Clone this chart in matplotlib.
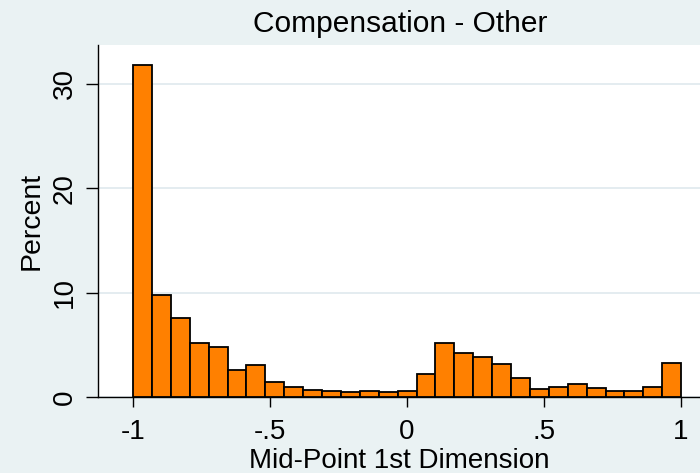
import numpy as np
import matplotlib.pyplot as plt

plt.rcParams["font.family"] = ["Liberation Sans", "DejaVu Sans"]

# histogram of mid-point, 29 equal bins from -1 to 1
bin_lo = -1.0
bin_hi = 1.0
percent = [31.8, 9.8, 7.6, 5.2, 4.8, 2.6, 3.1, 1.4, 1.0, 0.7, 0.6, 0.5, 0.6, 0.5, 0.6,
           2.2, 5.2, 4.2, 3.8, 3.2, 1.8, 0.8, 1.0, 1.2, 0.9, 0.6, 0.6, 1.0, 3.3]
xticks = [-1, -0.5, 0, 0.5, 1]
xtick_labels = ["-1", "-.5", "0", ".5", "1"]
yticks = [0, 10, 20, 30]

edges = np.linspace(bin_lo, bin_hi, len(percent) + 1)

fig = plt.figure(figsize=(7, 4.73), dpi=100)
fig.patch.set_facecolor("#eaf2f3")
ax = fig.add_axes([0.14, 0.1607, 0.86, 0.744])
ax.set_facecolor("white")

ax.bar(edges[:-1], percent, width=np.diff(edges), align="edge",
       color="#ff8000", edgecolor="black", linewidth=1.3, zorder=3)

ax.set_xlim(-1.128, 1.069)
ax.set_ylim(0, 33.7)
ax.set_xticks(xticks)
ax.set_xticklabels(xtick_labels)
ax.set_yticks(yticks)
ax.set_yticklabels([str(t) for t in yticks], rotation=90, va="center")
ax.grid(axis="y", color="#dfe9ed", linewidth=1.2, zorder=0)

for s in ["top", "right"]:
    ax.spines[s].set_visible(False)
ax.spines["left"].set_linewidth(1.0)
ax.spines["bottom"].set_linewidth(1.0)
ax.tick_params(axis="x", length=7.2, width=1.0, labelsize=20, pad=9)
ax.tick_params(axis="y", length=8.5, width=1.0, labelsize=20, pad=6)

ax.set_xlabel("Mid-Point 1st Dimension", fontsize=20)
ax.xaxis.set_label_coords(0.5, -0.2026)
ax.xaxis.label.set_verticalalignment("baseline")
ax.set_ylabel("Percent", fontsize=20.5)
ax.yaxis.set_label_coords(-0.11, 0.5)
ax.yaxis.label.set_verticalalignment("center")

fig.text(0.5714, 0.933, "Compensation - Other", ha="center", va="baseline", fontsize=21.5)

fig.savefig("out.png", dpi=100, facecolor=fig.get_facecolor())
